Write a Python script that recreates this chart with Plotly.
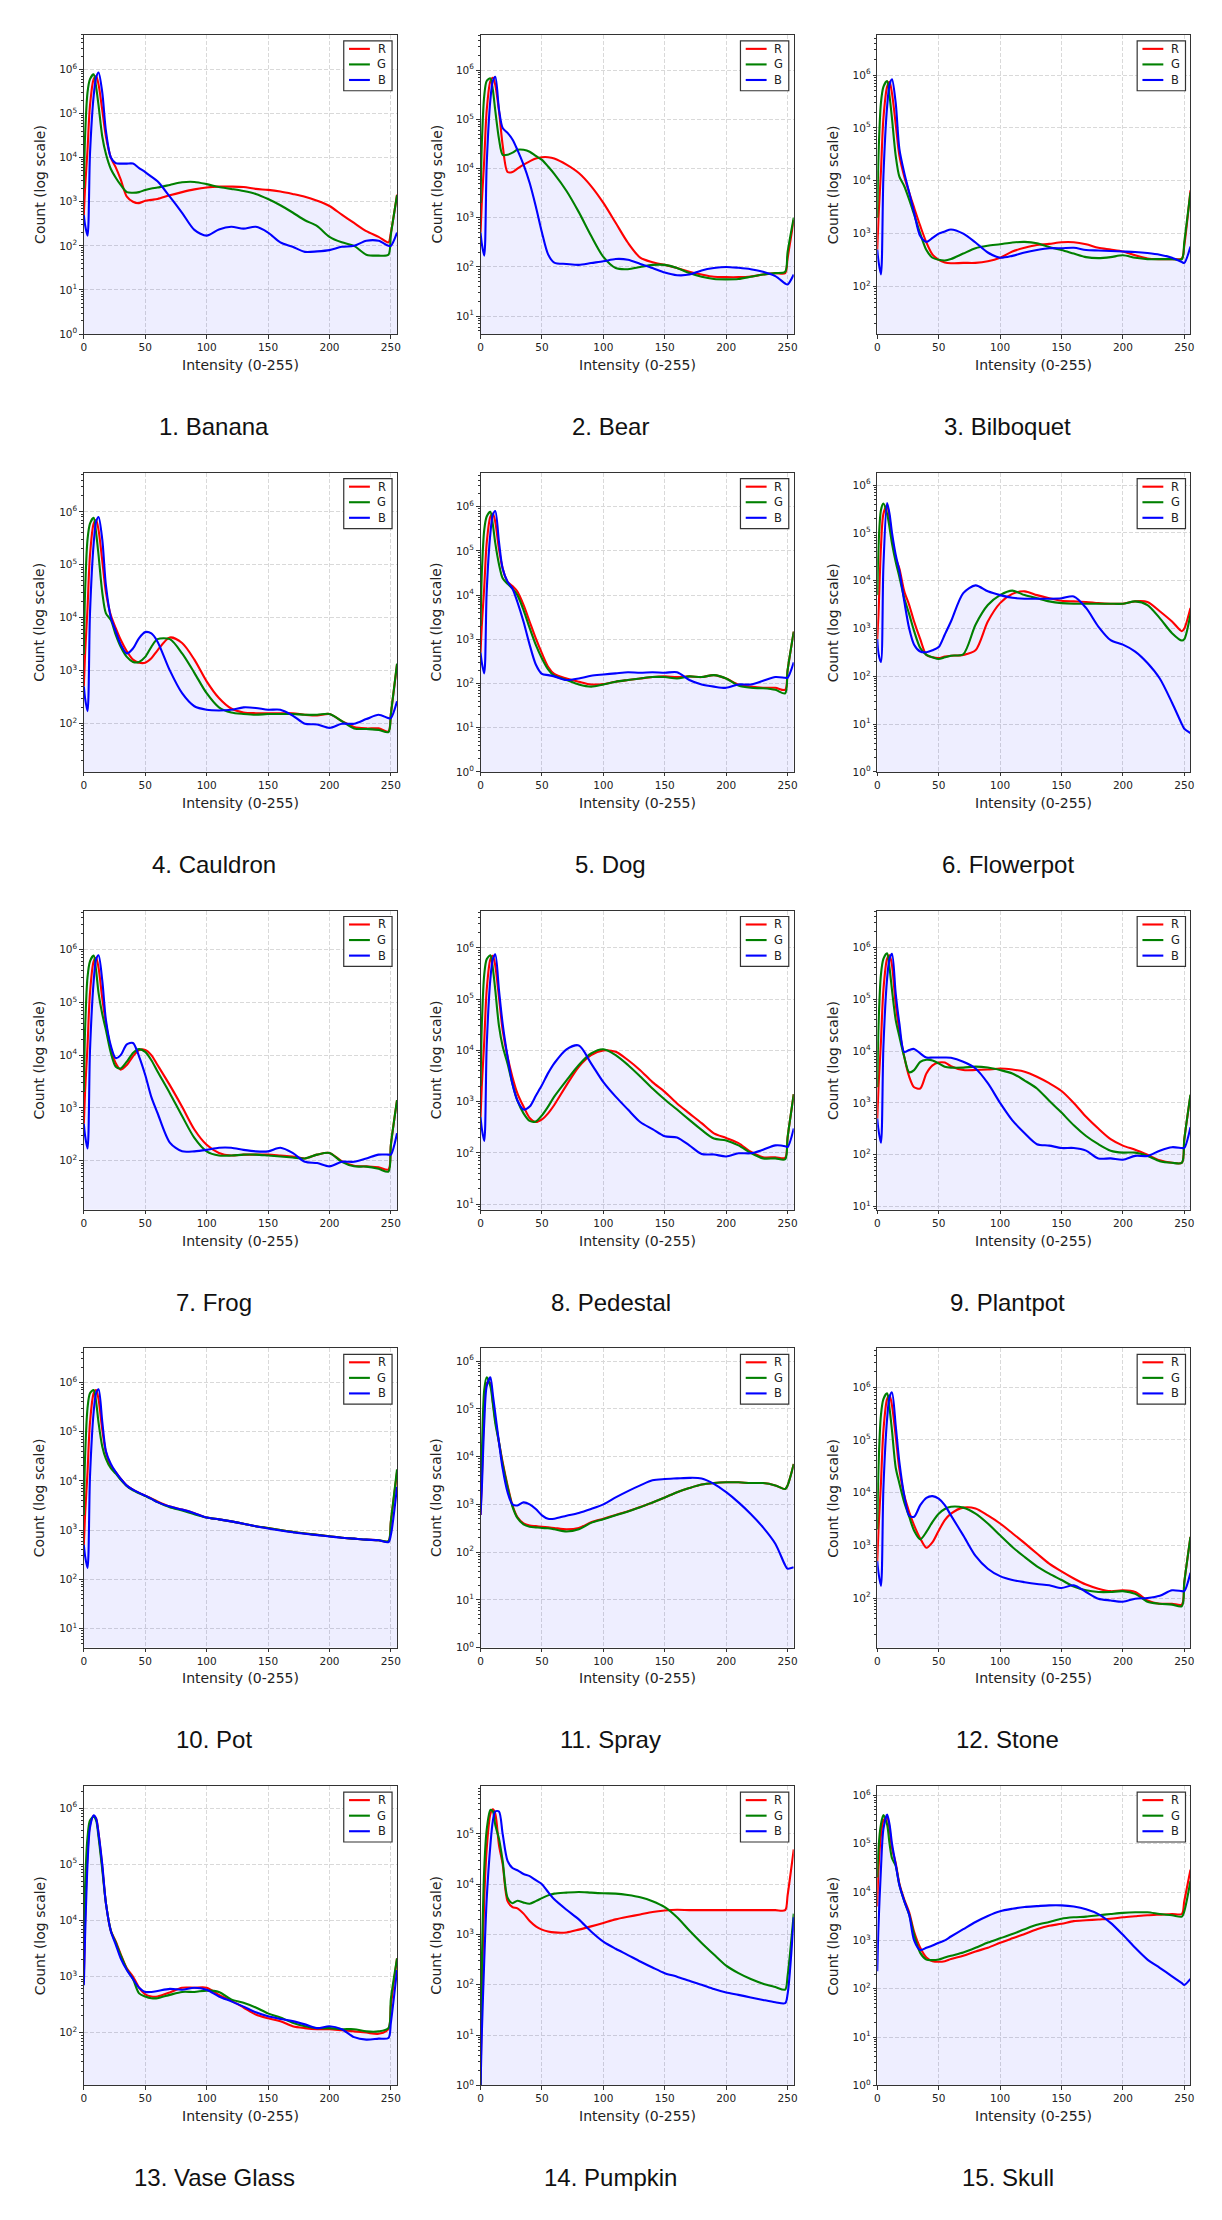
import plotly.graph_objects as go

# Intensity sample positions (shared by all histograms)
X = [0, 1, 3, 5, 8, 10, 12, 15, 18,
     22, 26, 30, 35, 40, 45, 50, 55, 60,
     70, 80, 90, 100, 110, 120, 130, 140, 150, 160,
     170, 180, 190, 200, 210, 220, 230, 240,
     248, 250, 255]

TITLES = ["1. Banana", "2. Bear", "3. Bilboquet", "4. Cauldron", "5. Dog",
          "6. Flowerpot", "7. Frog", "8. Pedestal", "9. Plantpot", "10. Pot",
          "11. Spray", "12. Stone", "13. Vase Glass", "14. Pumpkin", "15. Skull"]

CHANNELS = ["R", "G", "B"]

BANANA_R = [500, 2000, 15000, 150000, 600000, 700000, 450000, 120000, 30000,
            10000, 6000, 3200, 1300, 1000, 930, 1050, 1100, 1150,
            1400, 1650, 1900, 2100, 2200, 2200, 2150, 1950, 1850, 1700,
            1500, 1300, 1050, 800, 510, 330, 215, 160,
            120, 200, 1450]
BANANA_G = [2000, 30000, 300000, 600000, 770000, 400000, 150000, 30000, 12000,
            5500, 3500, 2400, 1650, 1600, 1650, 1850, 2000, 2100,
            2400, 2750, 2800, 2500, 2150, 1950, 1750, 1500, 1150, 830,
            570, 380, 280, 160, 120, 100, 63, 60,
            63, 180, 1400]
BANANA_B = [500, 300, 170, 12000, 250000, 650000, 850000, 300000, 40000,
            10000, 7500, 7300, 7300, 7300, 5800, 4700, 3700, 2900,
            1300, 560, 230, 170, 235, 270, 245, 270, 200, 120,
            95, 73, 75, 80, 95, 100, 130, 130,
            100, 100, 200]

BEAR_R = [500, 2000, 15000, 150000, 600000, 700000, 500000, 150000, 30000,
          8500, 8500, 10000, 12000, 14000, 16000, 17000, 17000, 16000,
          12000, 8100, 4400, 2000, 790, 310, 155, 125, 110, 95,
          80, 70, 63, 62, 62, 64, 70, 75,
          75, 150, 900]
BEAR_G = [2000, 30000, 300000, 600000, 680000, 400000, 150000, 40000, 19000,
          19000, 21000, 24000, 24000, 22000, 18000, 15000, 11000, 7800,
          3500, 1300, 430, 160, 95, 90, 100, 110, 110, 95,
          75, 63, 57, 56, 57, 63, 70, 75,
          80, 200, 1000]
BEAR_B = [500, 300, 170, 12000, 250000, 600000, 730000, 160000, 67000,
          53000, 39000, 24000, 12000, 5100, 1700, 500, 180, 122,
          115, 110, 120, 130, 145, 140, 115, 95, 77, 68,
          70, 85, 95, 100, 96, 90, 80, 65,
          46, 44, 70]

BILBOQUET_R = [500, 2000, 15000, 150000, 600000, 750000, 450000, 120000, 30000,
               12000, 6000, 3100, 1400, 680, 400, 320, 285, 275,
               280, 280, 300, 350, 460, 540, 610, 640, 690, 690,
               630, 540, 500, 460, 390, 340, 330, 330,
               340, 600, 6600]
BILBOQUET_G = [2000, 30000, 300000, 600000, 770000, 400000, 150000, 30000, 12000,
               7900, 4400, 2300, 1000, 490, 350, 320, 310, 330,
               420, 530, 590, 630, 680, 700, 660, 560, 490, 420,
               360, 345, 360, 390, 350, 330, 330, 330,
               330, 700, 6000]
BILBOQUET_B = [500, 300, 170, 12000, 250000, 650000, 830000, 300000, 40000,
               14000, 6000, 2500, 900, 700, 830, 1000, 1100, 1200,
               1000, 680, 440, 350, 380, 440, 490, 530, 530, 540,
               490, 480, 470, 460, 450, 430, 400, 350,
               290, 280, 570]

CAULDRON_R = [500, 2000, 15000, 150000, 600000, 700000, 450000, 120000, 30000,
              11000, 6300, 3800, 2300, 1600, 1400, 1400, 1700, 2400,
              4200, 3300, 1600, 620, 300, 190, 160, 155, 155, 155,
              155, 145, 140, 150, 110, 85, 80, 80,
              70, 150, 1300]
CAULDRON_G = [2000, 30000, 300000, 600000, 770000, 400000, 150000, 30000, 12000,
              9000, 4700, 2800, 1800, 1450, 1450, 1800, 2800, 3900,
              3900, 2100, 900, 370, 200, 160, 150, 145, 150, 150,
              150, 145, 145, 150, 110, 80, 78, 75,
              68, 150, 1350]
CAULDRON_B = [500, 300, 170, 12000, 250000, 650000, 800000, 300000, 40000,
              10000, 5500, 3100, 2100, 2600, 4100, 5300, 5000, 3500,
              1000, 370, 210, 180, 175, 180, 200, 195, 180, 180,
              140, 98, 95, 82, 98, 98, 120, 145,
              125, 125, 260]

DOG_R = [500, 2000, 15000, 150000, 600000, 700000, 450000, 110000, 40000,
         20000, 16000, 12000, 6000, 2500, 1050, 480, 240, 165,
         130, 110, 95, 97, 110, 120, 130, 140, 145, 140,
         145, 140, 155, 130, 95, 85, 80, 80,
         72, 200, 1500]
DOG_G = [2000, 30000, 300000, 600000, 770000, 400000, 150000, 50000, 24000,
         18000, 14000, 10000, 4600, 1800, 750, 370, 210, 150,
         120, 95, 85, 95, 110, 120, 130, 140, 140, 130,
         145, 140, 155, 130, 90, 80, 78, 72,
         60, 200, 1500]
DOG_B = [500, 300, 170, 12000, 250000, 650000, 800000, 160000, 40000,
         20000, 14000, 7000, 2500, 750, 270, 165, 155, 145,
         120, 130, 150, 160, 170, 180, 175, 180, 175, 180,
         120, 95, 85, 80, 95, 95, 115, 140,
         135, 135, 300]

FLOWERPOT_R = [600, 2000, 50000, 250000, 380000, 200000, 80000, 30000, 18000,
               6000, 3100, 1400, 600, 280, 250, 240, 260, 270,
               280, 350, 1400, 3400, 5300, 6000, 5000, 4300, 3800, 3700,
               3600, 3400, 3300, 3300, 3700, 3600, 2300, 1400,
               880, 1000, 2700]
FLOWERPOT_G = [5000, 50000, 300000, 410000, 250000, 130000, 60000, 25000, 12000,
               4300, 2000, 880, 390, 280, 250, 230, 250, 270,
               290, 1200, 3100, 5000, 6200, 5000, 4300, 3700, 3400, 3300,
               3300, 3300, 3300, 3300, 3700, 3100, 1650, 800,
               560, 600, 2000]
FLOWERPOT_B = [600, 300, 200, 20000, 420000, 250000, 100000, 35000, 16000,
               3700, 1000, 460, 330, 320, 350, 410, 750, 1400,
               5500, 8000, 6000, 5000, 4400, 4200, 4200, 4200, 4300, 4700,
               2700, 1100, 570, 460, 330, 190, 90, 28,
               10, 8, 6.5]

FROG_R = [500, 2000, 15000, 150000, 600000, 700000, 450000, 120000, 40000,
          13500, 7000, 5300, 6500, 9500, 12500, 12500, 10000, 6500,
          2700, 1050, 390, 200, 140, 125, 130, 130, 130, 125,
          120, 110, 130, 140, 98, 80, 78, 75,
          68, 200, 1400]
FROG_G = [2000, 30000, 300000, 600000, 770000, 400000, 150000, 60000, 30000,
          11000, 6000, 5600, 7500, 11000, 13000, 11500, 8000, 4900,
          1900, 700, 270, 150, 125, 125, 130, 130, 125, 120,
          115, 110, 130, 140, 95, 78, 77, 70,
          62, 200, 1400]
FROG_B = [500, 300, 170, 12000, 250000, 650000, 780000, 260000, 46000,
          15000, 8800, 10000, 16000, 17000, 9400, 4200, 1600, 800,
          220, 150, 150, 160, 175, 175, 160, 150, 150, 175,
          140, 95, 90, 78, 95, 95, 110, 130,
          130, 130, 330]

PEDESTAL_R = [500, 2000, 15000, 150000, 600000, 700000, 450000, 110000, 25000,
              7500, 3000, 1450, 800, 480, 400, 450, 590, 860,
              2100, 4800, 8100, 10000, 9400, 6500, 4100, 2400, 1550, 920,
              590, 380, 240, 195, 155, 105, 82, 82,
              80, 200, 1400]
PEDESTAL_G = [2000, 30000, 300000, 600000, 720000, 400000, 150000, 30000, 12000,
              5500, 2200, 1050, 590, 420, 410, 540, 800, 1250,
              2600, 5200, 8700, 10500, 8100, 5200, 3100, 1800, 1100, 700,
              440, 280, 190, 175, 140, 100, 78, 78,
              75, 200, 1400]
PEDESTAL_B = [500, 300, 170, 12000, 250000, 600000, 750000, 150000, 33000,
              7500, 2200, 1050, 700, 800, 1300, 2100, 3600, 5600,
              10500, 12500, 5600, 2400, 1250, 700, 400, 290, 210, 200,
              140, 95, 93, 85, 98, 98, 115, 140,
              135, 130, 300]

PLANTPOT_R = [500, 2000, 15000, 150000, 600000, 700000, 450000, 80000, 25000,
              7700, 3200, 2000, 1900, 3700, 5300, 6000, 6000, 5100,
              4300, 4300, 4400, 4600, 4400, 4000, 3200, 2400, 1700, 1000,
              540, 320, 200, 150, 125, 100, 78, 70,
              70, 200, 1400]
PLANTPOT_G = [2000, 30000, 300000, 600000, 770000, 400000, 150000, 40000, 19000,
              7700, 3900, 4300, 6200, 6800, 6600, 5800, 5000, 4800,
              4800, 5000, 4800, 4300, 3700, 2700, 1900, 1100, 650, 370,
              230, 160, 120, 110, 110, 95, 75, 70,
              70, 200, 1450]
PLANTPOT_B = [500, 300, 170, 12000, 250000, 600000, 750000, 130000, 34000,
              9600, 10500, 11000, 9000, 7500, 7500, 7500, 7500, 7400,
              6200, 4600, 2400, 1000, 460, 260, 160, 150, 135, 135,
              120, 85, 85, 80, 95, 95, 120, 140,
              135, 135, 340]

POT_R = [500, 2000, 15000, 150000, 600000, 700000, 450000, 110000, 38000,
         20000, 15000, 11000, 8000, 6600, 5700, 5000, 4400, 3800,
         3000, 2600, 2200, 1800, 1650, 1500, 1350, 1200, 1100, 1000,
         920, 850, 800, 750, 700, 670, 640, 620,
         590, 1500, 15000]
POT_G = [2000, 30000, 300000, 600000, 700000, 400000, 150000, 50000, 28000,
         18000, 14000, 10500, 7800, 6400, 5600, 4900, 4300, 3700,
         2900, 2500, 2100, 1800, 1650, 1500, 1350, 1200, 1100, 1000,
         920, 850, 800, 750, 700, 670, 640, 620,
         600, 1500, 17000]
POT_B = [500, 300, 170, 12000, 250000, 600000, 720000, 160000, 40000,
         22000, 15000, 11000, 8000, 6600, 5700, 5000, 4300, 3700,
         3000, 2600, 2200, 1800, 1650, 1500, 1350, 1200, 1080, 980,
         900, 840, 790, 740, 700, 670, 640, 620,
         570, 800, 7500]

SPRAY_R = [600, 3000, 100000, 350000, 350000, 140000, 60000, 20000, 7700,
           2500, 950, 540, 400, 360, 350, 340, 330, 320,
           300, 320, 420, 500, 600, 720, 880, 1100, 1400, 1800,
           2200, 2600, 2800, 2900, 2900, 2800, 2800, 2500,
           2100, 2500, 7000]
SPRAY_G = [1000, 10000, 250000, 460000, 300000, 130000, 50000, 20000, 7000,
           2300, 900, 520, 380, 340, 330, 320, 315, 300,
           270, 300, 410, 490, 590, 710, 870, 1100, 1400, 1800,
           2200, 2600, 2800, 2900, 2900, 2800, 2800, 2500,
           2100, 2500, 7000]
SPRAY_B = [600, 2000, 50000, 300000, 460000, 200000, 80000, 20000, 5600,
           1800, 1000, 950, 1100, 1000, 800, 590, 500, 500,
           580, 660, 800, 1000, 1400, 1900, 2500, 3200, 3400, 3500,
           3600, 3500, 2700, 1800, 1100, 630, 330, 150,
           53, 45, 48]

STONE_R = [500, 2000, 15000, 150000, 600000, 700000, 450000, 120000, 28000,
           8800, 4300, 2400, 1350, 900, 1150, 1900, 3000, 4000,
           5200, 5000, 3700, 2600, 1700, 1100, 700, 450, 320, 235,
           180, 150, 135, 140, 130, 90, 78, 78,
           75, 200, 1450]
STONE_G = [2000, 30000, 300000, 600000, 770000, 400000, 150000, 30000, 15000,
           6500, 3500, 1900, 1300, 1800, 2800, 4000, 4900, 5400,
           5200, 4000, 2600, 1550, 930, 600, 400, 290, 220, 165,
           140, 130, 130, 135, 120, 85, 78, 75,
           70, 200, 1450]
STONE_B = [500, 300, 170, 12000, 250000, 650000, 800000, 190000, 38000,
           8800, 3700, 3500, 5800, 8000, 8600, 7700, 5800, 3700,
           1550, 630, 360, 260, 220, 200, 185, 175, 155, 175,
           130, 97, 90, 85, 97, 100, 110, 140,
           135, 135, 300]

VASE_GLASS_R = [1000, 10000, 150000, 500000, 720000, 650000, 350000, 90000, 20000,
                6500, 4200, 2500, 1400, 1000, 630, 480, 440, 440,
                520, 630, 630, 630, 470, 370, 280, 210, 180, 160,
                130, 120, 115, 115, 110, 105, 100, 95,
                115, 300, 2100]
VASE_GLASS_G = [3000, 40000, 300000, 600000, 700000, 600000, 300000, 80000, 20000,
                6500, 4000, 2400, 1350, 900, 500, 440, 410, 410,
                470, 530, 530, 560, 530, 390, 340, 280, 220, 185,
                150, 130, 120, 120, 115, 115, 105, 105,
                120, 400, 2100]
VASE_GLASS_B = [700, 5000, 100000, 450000, 740000, 650000, 350000, 100000, 20000,
                6400, 3700, 2100, 1300, 900, 630, 530, 530, 550,
                600, 580, 630, 580, 440, 360, 290, 230, 195, 175,
                160, 140, 120, 130, 115, 83, 75, 78,
                80, 150, 1300]

PUMPKIN_R = [1, 50, 5000, 50000, 250000, 310000, 250000, 60000, 25000,
             4600, 3500, 3300, 2600, 1850, 1450, 1250, 1150, 1100,
             1100, 1250, 1450, 1700, 2000, 2250, 2500, 2800, 3000, 3100,
             3050, 3050, 3050, 3050, 3050, 3050, 3050, 3050,
             3050, 6000, 49000]
PUMPKIN_G = [1, 200, 20000, 120000, 300000, 280000, 150000, 80000, 29000,
             5400, 4200, 4700, 4300, 4100, 4600, 5300, 6000, 6500,
             6800, 7000, 6800, 6600, 6500, 6100, 5500, 4600, 3500, 2200,
             1200, 680, 400, 240, 170, 130, 105, 90,
             80, 150, 2600]
PUMPKIN_B = [1, 10, 300, 5000, 60000, 180000, 280000, 280000, 100000,
             29000, 21000, 19000, 16000, 14500, 12000, 10000, 7000, 5000,
             3100, 2000, 1150, 720, 520, 390, 290, 220, 170, 145,
             120, 100, 82, 70, 63, 56, 50, 45,
             43, 65, 2200]

SKULL_R = [5000, 30000, 150000, 300000, 350000, 200000, 80000, 40000, 15000,
           7000, 3800, 1500, 700, 440, 370, 360, 370, 410,
           480, 590, 700, 890, 1100, 1350, 1700, 2000, 2200, 2500,
           2600, 2700, 2800, 3000, 3150, 3300, 3400, 3500,
           3500, 6500, 29000]
SKULL_G = [20000, 80000, 250000, 390000, 250000, 100000, 50000, 35000, 14000,
           6500, 3400, 1300, 550, 400, 390, 400, 440, 480,
           560, 700, 900, 1100, 1350, 1700, 2100, 2400, 2800, 3000,
           3100, 3300, 3500, 3700, 3800, 3800, 3500, 3300,
           3100, 4000, 17000]
SKULL_B = [230, 2000, 30000, 200000, 400000, 250000, 100000, 37000, 14000,
           6500, 3400, 1000, 630, 700, 780, 890, 1000, 1200,
           1700, 2400, 3200, 4000, 4500, 4900, 5100, 5300, 5300, 5000,
           4400, 3500, 2300, 1300, 700, 400, 270, 180,
           130, 120, 160]

# log10 y-axis limits of each panel
Y_LOG_RANGES = [[0, 6.78], [0.635, 6.716], [1.1, 6.76], [1.08, 6.74], [0, 6.77],
                [0, 6.26], [1.07, 6.74], [0.89, 6.73], [0.94, 6.71], [0.615, 6.69],
                [0, 6.27], [1.06, 6.74], [1.06, 6.39], [0, 5.95], [0, 6.19]]

SERIES = [
    (BANANA_R, BANANA_G, BANANA_B), (BEAR_R, BEAR_G, BEAR_B),
    (BILBOQUET_R, BILBOQUET_G, BILBOQUET_B), (CAULDRON_R, CAULDRON_G, CAULDRON_B),
    (DOG_R, DOG_G, DOG_B), (FLOWERPOT_R, FLOWERPOT_G, FLOWERPOT_B),
    (FROG_R, FROG_G, FROG_B), (PEDESTAL_R, PEDESTAL_G, PEDESTAL_B),
    (PLANTPOT_R, PLANTPOT_G, PLANTPOT_B), (POT_R, POT_G, POT_B),
    (SPRAY_R, SPRAY_G, SPRAY_B), (STONE_R, STONE_G, STONE_B),
    (VASE_GLASS_R, VASE_GLASS_G, VASE_GLASS_B), (PUMPKIN_R, PUMPKIN_G, PUMPKIN_B),
    (SKULL_R, SKULL_G, SKULL_B),
]

# ---------------- layout / styling ----------------
W, H = 1222, 2220
COL_LEFT = [81.3, 480.3, 879.3]
ROW_TOP = [35, 474, 913, 1352, 1791]
PW, PH = 315, 300
LINE_COLORS = ["#ff0000", "#008000", "#0000ff"]
FILL = "rgba(0,0,255,0.066)"
AX_COLOR = "#333333"
TXT = "#222222"
GRID = "#d9d9d9"
TICK_FONT = dict(family="DejaVu Sans", size=10.5, color=TXT)

fig = go.Figure()
annotations = []
shapes = []

major_vals = [10 ** k for k in range(0, 8)]
major_text = ["10<sup>%d</sup>" % k for k in range(0, 8)]
minor_vals = [m * 10 ** k for k in range(-1, 8) for m in range(2, 10)]

for i in range(15):
    r, c = divmod(i, 3)
    sfx = "" if i == 0 else str(i + 1)
    xa, ya = "x" + sfx, "y" + sfx
    left, top = COL_LEFT[c], ROW_TOP[r]
    x0, x1 = left / W, (left + PW) / W
    y1, y0 = 1 - top / H, 1 - (top + PH) / H

    rr, gg, bb = SERIES[i]
    envelope = [max(a, b, d) for a, b, d in zip(rr, gg, bb)]

    # baseline + light lavender fill under the curves
    fig.add_trace(go.Scatter(x=[X[0], X[-1]], y=[1e-3, 1e-3], mode="lines",
                             line=dict(width=0), xaxis=xa, yaxis=ya,
                             showlegend=False, hoverinfo="skip"))
    fig.add_trace(go.Scatter(x=X, y=envelope, mode="lines",
                             line=dict(width=0, shape="spline", smoothing=0.8),
                             fill="tonexty", fillcolor=FILL,
                             xaxis=xa, yaxis=ya, showlegend=False, hoverinfo="skip"))
    for name, ys, col in zip(CHANNELS, (rr, gg, bb), LINE_COLORS):
        fig.add_trace(go.Scatter(x=X, y=ys, mode="lines", name=name,
                                 line=dict(color=col, width=2.1, shape="spline", smoothing=0.8),
                                 xaxis=xa, yaxis=ya, showlegend=False))

    fig.layout["xaxis" + sfx] = dict(
        domain=[x0, x1], anchor=ya, range=[0, 255],
        tickmode="array", tickvals=[0, 50, 100, 150, 200, 250],
        ticks="outside", ticklen=3.5, tickwidth=1, tickcolor=AX_COLOR,
        tickfont=TICK_FONT, showline=True, linecolor=AX_COLOR, linewidth=1,
        mirror=True, showgrid=True, gridcolor=GRID, griddash="4px,2px",
        gridwidth=0.7, zeroline=False, fixedrange=True)
    fig.layout["yaxis" + sfx] = dict(
        domain=[y0, y1], anchor=xa, type="log", range=Y_LOG_RANGES[i],
        tickmode="array", tickvals=major_vals, ticktext=major_text,
        ticks="outside", ticklen=3.5, tickwidth=1, tickcolor=AX_COLOR,
        tickfont=TICK_FONT, showline=True, linecolor=AX_COLOR, linewidth=1,
        mirror=True, showgrid=True, gridcolor=GRID, griddash="4px,2px",
        gridwidth=0.7, zeroline=False, fixedrange=True,
        minor=dict(tickmode="array", tickvals=minor_vals, ticks="outside",
                   ticklen=2, tickcolor=AX_COLOR, showgrid=False))

    # axis titles
    annotations.append(dict(text="Intensity (0-255)", xref="paper", yref="paper",
                            x=(left + PW / 2) / W, y=1 - (top + PH + 31) / H,
                            xanchor="center", yanchor="middle", showarrow=False,
                            font=dict(family="DejaVu Sans", size=14, color=TXT)))
    annotations.append(dict(text="Count (log scale)", xref="paper", yref="paper",
                            x=(left - 44.7) / W, y=1 - (top + PH / 2) / H,
                            xanchor="center", yanchor="middle", textangle=-90,
                            showarrow=False,
                            font=dict(family="DejaVu Sans", size=14, color=TXT)))
    # panel caption
    annotations.append(dict(text=TITLES[i], xref="paper", yref="paper",
                            x=(left + 131) / W, y=1 - (top + 392.7) / H,
                            xanchor="center", yanchor="middle", showarrow=False,
                            font=dict(family="Liberation Sans, Arial", size=24, color="#111111")))

    # legend box (drawn in axis-domain coordinates)
    xd, yd = xa + " domain", ya + " domain"
    shapes.append(dict(type="rect", xref=xd, yref=yd, x0=261.4 / PW, x1=310 / PW,
                       y0=1 - 56 / PH, y1=1 - 6 / PH,
                       line=dict(color=AX_COLOR, width=1.2), fillcolor="white", layer="above"))
    for k, (name, col) in enumerate(zip(CHANNELS, LINE_COLORS)):
        yy = 1 - (14 + k * 15.6) / PH
        shapes.append(dict(type="line", xref=xd, yref=yd, x0=266.7 / PW, x1=287.7 / PW,
                           y0=yy, y1=yy, line=dict(color=col, width=2.1), layer="above"))
        annotations.append(dict(text=name, xref=xd, yref=yd, x=299.5 / PW, y=yy,
                                xanchor="center", yanchor="middle", showarrow=False,
                                font=dict(family="DejaVu Sans", size=11.5, color=TXT)))

fig.update_layout(width=W, height=H, margin=dict(l=0, r=0, t=0, b=0),
                  paper_bgcolor="white", plot_bgcolor="white",
                  showlegend=False, annotations=annotations, shapes=shapes)

fig.write_html("out.html")
